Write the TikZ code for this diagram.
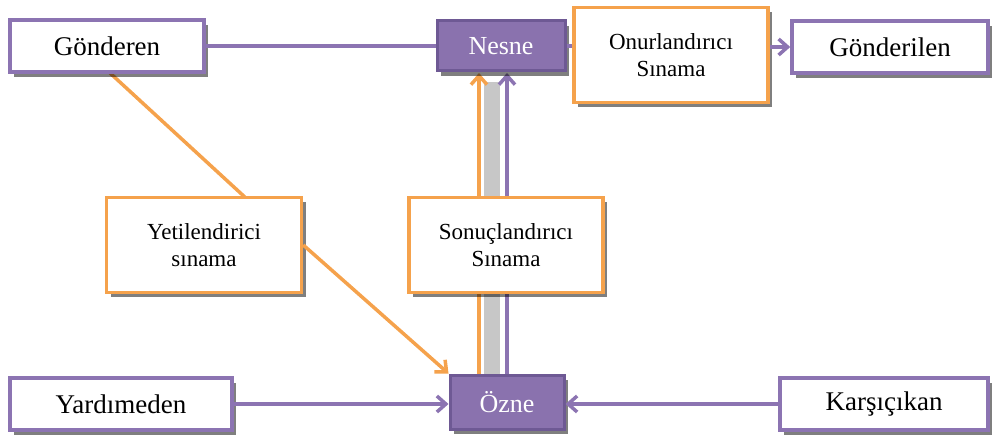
\documentclass[tikz,border=0pt]{standalone}
\usepackage{fontspec}
\setmainfont{Liberation Serif}
\usetikzlibrary{shadows,arrows.meta}
\definecolor{lila}{HTML}{8C74B2}
\definecolor{lilafill}{HTML}{8A72AE}
\definecolor{liladark}{HTML}{6E5994}
\definecolor{turuncu}{HTML}{F5A24C}
\begin{document}
\begin{tikzpicture}[x=1pt,y=-1pt,
  boxshadow/.style={drop shadow={shadow xshift=4pt,shadow yshift=-5pt,fill=black,opacity=0.5}},
  actant/.style={draw=lila,line width=3.5pt,fill=white,boxshadow,minimum height=52pt,
    font=\fontsize{27}{30}\selectfont,inner sep=0pt},
  core/.style={draw=liladark,line width=3pt,fill=lilafill,text=white,boxshadow,
    font=\fontsize{26}{30}\selectfont,inner sep=0pt},
  test/.style={draw=turuncu,line width=3.5pt,fill=white,boxshadow,align=center,
    font=\fontsize{23}{27}\selectfont,inner sep=0pt},
  plink/.style={draw=lila,line width=3.5pt},
  olink/.style={draw=turuncu,line width=3.5pt},
  tip/.style={-{Straight Barb[length=9pt,width=16pt,line width=3.5pt]}},
]
\useasboundingbox (0,0) rectangle (998,435);

% vertical links between subject and object (drawn first, behind the test box)
\coordinate (ot) at (479,73);
\coordinate (ob) at (479,376);
\coordinate (pt) at (507,73);
\coordinate (pb) at (507,376);
\fill[black!22] (484,82) rectangle (500,374);
\draw[olink,tip] (ob) -- (ot);
\draw[plink,tip] (pb) -- (pt);

% sender to subject, passing behind the qualifying test
\coordinate (s1) at (110,73);
\coordinate (s2) at (248,200);
\draw[olink] (s1) -- (s2);

% boxes
\node[actant,minimum width=194pt] (gonderen) at (107,46) {Gönderen};
\node[core,minimum width=128pt,minimum height=50pt] (nesne) at (501,46) {Nesne};
\node[test,minimum width=194pt,minimum height=95pt] (onur) at (671,55) {Onurlandırıcı\\Sınama};
\node[actant,minimum width=196pt] (gonderilen) at (890,47) {Gönderilen};
\node[test,minimum width=195pt,minimum height=95pt] (yeti) at (204,245) {Yetilendirici\\sınama};
\node[test,minimum width=194pt,minimum height=95pt] (sonuc) at (506,245) {Sonuçlandırıcı\\Sınama};
\node[core,minimum width=114pt,minimum height=54pt] (ozne) at (507,402) {Özne};
\node[actant,minimum width=222pt] (yardim) at (121,404) {Yardımeden};
\node[actant,minimum width=208pt] (karsi) at (884,404) {Karşıçıkan};

% connectors
\draw[plink] (gonderen.east) -- (nesne.west);
\draw[plink] (nesne.east) -- (onur.west |- nesne.east);
\draw[plink,tip] (onur.east |- gonderilen.west) -- (gonderilen.west);
\draw[olink,tip] (yeti.east) -- (ozne.north west);
\draw[plink,tip] (yardim.east) -- (ozne.west |- yardim.east);
\draw[plink,tip] (karsi.west) -- (ozne.east |- karsi.west);
\end{tikzpicture}
\end{document}
